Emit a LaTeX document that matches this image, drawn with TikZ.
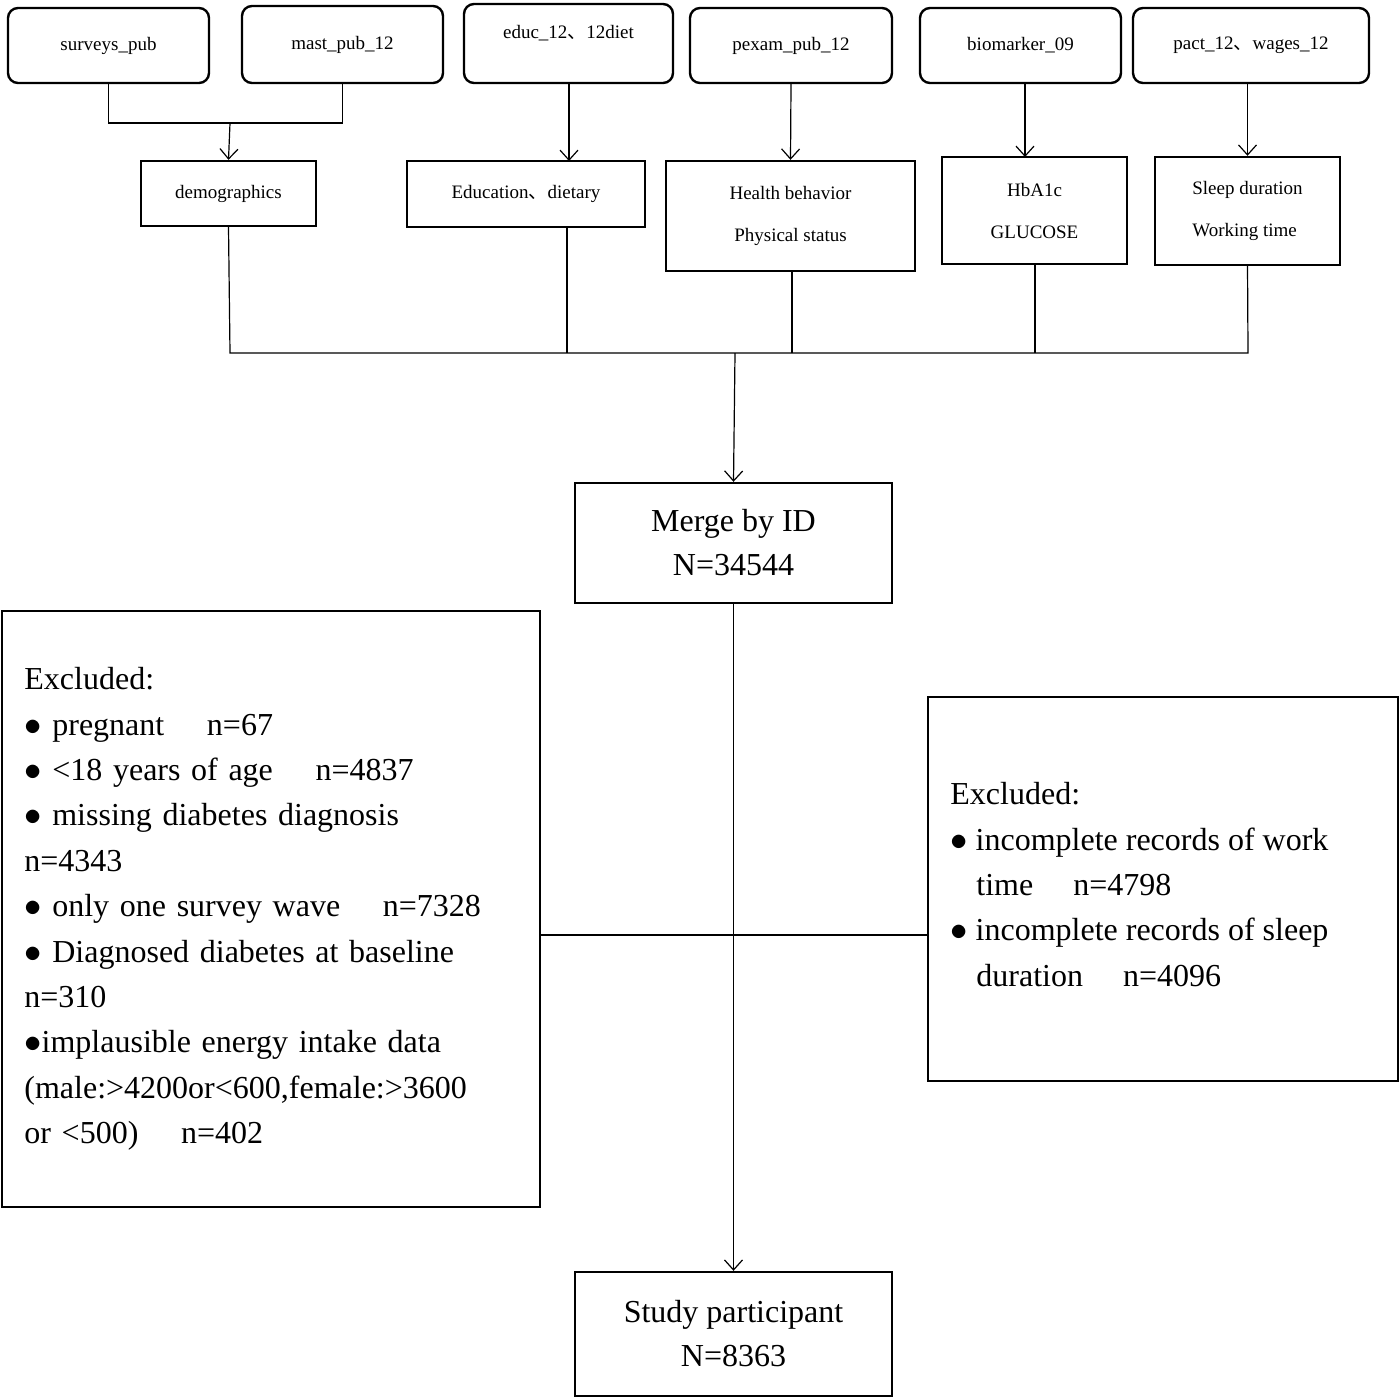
\documentclass[tikz,border=0pt]{standalone}
\usepackage{fontspec}
\setmainfont{Liberation Serif}
\newfontfamily\cjk{Noto Sans CJK SC}
\newcommand{\dun}{{\cjk 、}}
\begin{document}
\begin{tikzpicture}[x=0.5pt,y=-0.5pt,
  top/.style={draw,line width=1.2pt,rounded corners=5pt,font=\fontsize{9.5}{11}\selectfont},
  mid/.style={draw,line width=1.2pt,font=\fontsize{9.5}{11}\selectfont,align=center},
  big/.style={draw,line width=1.2pt,font=\fontsize{16}{22}\selectfont,align=center},
  ln/.style={line width=0.6pt},
  ar/.style={line width=0.6pt,->,>={Straight Barb[length=5pt,width=9pt]}}]
\useasboundingbox (0,0) rectangle (1400,1398);
\usetikzlibrary{arrows.meta}
% top boxes
\node[top,minimum width=100.5pt,minimum height=37.5pt] (t1) at (108.5,45.5) {surveys\_pub};
\node[top,minimum width=100.5pt,minimum height=38.5pt] (t2) at (342.5,44.5) {mast\_pub\_12};
\node[top,minimum width=104.5pt,minimum height=39.5pt,text depth=12pt] (t3) at (568.5,43.5) {educ\_12\dun 12diet};
\node[top,minimum width=101pt,minimum height=37.5pt] (t4) at (791,45.5) {pexam\_pub\_12};
\node[top,minimum width=100.5pt,minimum height=37.5pt] (t5) at (1020.5,45.5) {biomarker\_09};
\node[top,minimum width=118pt,minimum height=37.5pt] (t6) at (1251,45.5) {pact\_12\dun wages\_12};
% second row
\node[mid,minimum width=87.5pt,minimum height=32.5pt] (m1) at (228.5,193.5) {demographics};
\node[mid,minimum width=119pt,minimum height=33pt] (m2) at (526,194) {Education\dun dietary};
\node[mid,minimum width=124.5pt,minimum height=55pt] (m3) at (790.5,216) {Health behavior\\[10pt]Physical status};
\node[mid,minimum width=92.5pt,minimum height=53.5pt] (m4) at (1034.5,210.5) {HbA1c\\[10pt]GLUCOSE};
\node[mid,minimum width=92.5pt,minimum height=54pt,align=left] (m5) at (1247.5,211) {Sleep duration\\[10pt]Working time};
% connectors top
\coordinate (j1) at (230,123);
\draw[ln] (t1.south) |- (j1) -| (t2.south);
\draw[ar] (j1) -- (m1.north);
\draw[ar] (569,83) -- (569,161);
\draw[ar] (t4.south) -- (m3.north);
\draw[ar] (1025,83) -- (1025,157);
\draw[ar] (t6.south-|m5.north) -- (m5.north);
% merge
\node[big,minimum width=158.5pt,minimum height=60pt] (mg) at (733.5,543) {Merge by ID\\N=34544};
\node[big,minimum width=158.5pt,minimum height=62pt] (sp) at (733.5,1334) {Study participant\\N=8363};
\coordinate (h) at (735,353);
\draw[ln] (m1.south) -- (230,353) -- (1248,353) -- (m5.south);
\draw[ln] (567,227) -- (567,353);
\draw[ln] (792,271) -- (792,353);
\draw[ln] (1035,264) -- (1035,353);
\draw[ar] (h) -- (mg.north);
\draw[ar] (mg.south) -- (sp.north);
% exclusion boxes
\node[draw,line width=1.2pt,minimum width=269pt,minimum height=298pt] (L) at (271,909) {};
\node[draw,line width=1.2pt,minimum width=235pt,minimum height=192pt] (R) at (1163,889) {};
\draw[ln] (L.east|-0,935) -- (R.west|-0,935);
\node[anchor=north west,inner sep=0pt,align=left,font=\fontsize{16}{22.7}\selectfont,text width=247pt] (Lt) at (24,667) {Excluded:\\
$\bullet$ pregnant\quad\ n=67\\
$\bullet$ <18 years of age\quad\ n=4837\\
$\bullet$ missing diabetes diagnosis\\
n=4343\\
$\bullet$ only one survey wave\quad\ n=7328\\
$\bullet$ Diagnosed diabetes at baseline\\
n=310\\
\makebox[247pt][s]{$\bullet$implausible energy intake data}\\
(male:>4200or<600,female:>3600\\
or <500)\quad\ n=402};
\node[anchor=north west,inner sep=0pt,align=left,font=\fontsize{16}{22.7}\selectfont] (Rt) at (950,782) {Excluded:\\
$\bullet$ incomplete records of work\\
\hspace*{13pt}time\quad\ n=4798\\
$\bullet$ incomplete records of sleep\\
\hspace*{13pt}duration\quad\ n=4096};
\end{tikzpicture}
\end{document}
